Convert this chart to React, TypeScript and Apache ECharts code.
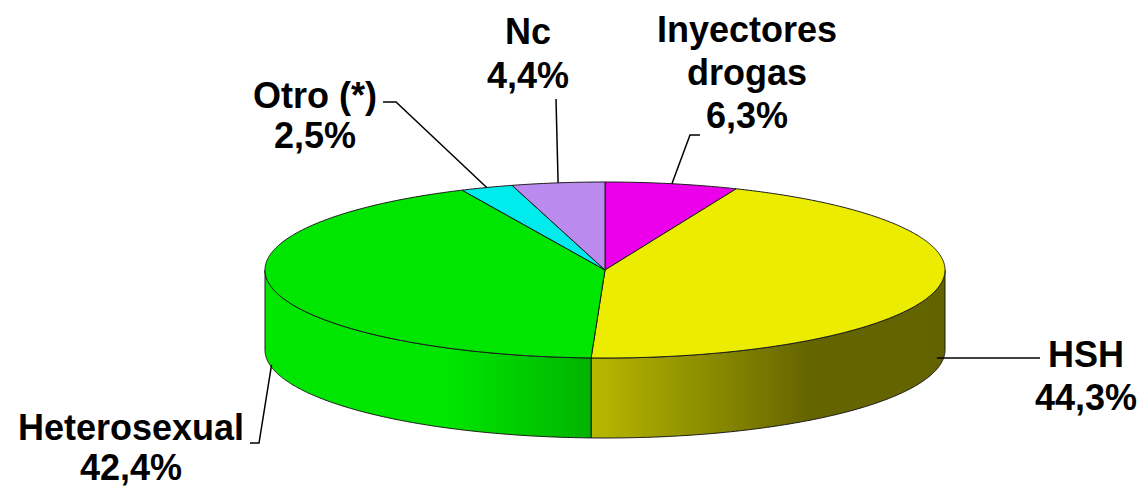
import React, { useEffect, useRef } from 'react';
import * as echarts from 'echarts';

// ---- data ----
const categories = ['Inyectores drogas', 'HSH', 'Heterosexual', 'Otro (*)', 'Nc'];
const values = [6.3, 44.3, 42.4, 2.5, 4.4];

// ---- styles / layout ----
const colors = ['#EC00EC', '#ECEC00', '#00E600', '#00ECEC', '#BB8AEE'];
const PIE = { cx: 605, cy: 270, rx: 340, ry: 88, depth: 80 };
// side shading factor across the pie width (lit from the left)
const shade: [number, number][] = [
  [0, 1],
  [0.27, 1],
  [0.48, 0.78],
  [0.8, 0.43],
  [1, 0.42],
];
const labelLayout = [
  { x: 747, y: 8, lh: 43, wrap: true, line: [[700, 135], [690, 135]], frac: 0 },
  { x: 1086, y: 333, lh: 43, wrap: false, line: [[1040, 358]], frac: 0.86 },
  { x: 131, y: 407, lh: 40, wrap: false, line: [[250, 443], [259, 443]], frac: 0.97 },
  { x: 315, y: 75, lh: 40, wrap: false, line: [[383, 102], [396, 102]], frac: 0 },
  { x: 528, y: 9, lh: 44, wrap: false, line: [[556, 99]], frac: 0 },
];

const total = values.reduce((a, b) => a + b, 0);
const cum: number[] = [0];
values.forEach((v, i) => cum.push(cum[i] + v));
const angleOf = (c: number) => (c / total) * Math.PI * 2;

const topPt = (t: number, dy = 0): number[] => [
  PIE.cx + PIE.rx * Math.sin(t),
  PIE.cy - PIE.ry * Math.cos(t) + dy,
];

const scaleColor = (hex: string, f: number) => {
  const n = parseInt(hex.slice(1), 16);
  const r = Math.round(((n >> 16) & 255) * f);
  const g = Math.round(((n >> 8) & 255) * f);
  const b = Math.round((n & 255) * f);
  return `rgb(${r},${g},${b})`;
};

const arc = (a0: number, a1: number, dy = 0) => {
  const pts: number[][] = [];
  const n = Math.max(2, Math.ceil((a1 - a0) / (Math.PI / 360)));
  for (let k = 0; k <= n; k++) pts.push(topPt(a0 + ((a1 - a0) * k) / n, dy));
  return pts;
};

const fmt = (v: number) => v.toFixed(1).replace('.', ',') + '%';

export default function App() {
  const ref = useRef<HTMLDivElement>(null);
  useEffect(() => {
    if (!ref.current) return;
    const chart = echarts.init(ref.current, null, { renderer: 'svg' });

    const seriesData = values.map((v, i) => ({ name: categories[i], value: v }));

    const sideSeries: any = {
      type: 'custom',
      coordinateSystem: 'none',
      z: 1,
      silent: true,
      data: seriesData,
      renderItem: (params: any) => {
        const i = params.dataIndex;
        const a0 = angleOf(cum[i]);
        const a1 = angleOf(cum[i + 1]);
        const s = Math.max(a0, Math.PI / 2);
        const e = Math.min(a1, (Math.PI * 3) / 2);
        if (s >= e) return { type: 'group', children: [] };
        const pts = arc(s, e).concat(arc(s, e, PIE.depth).reverse());
        return {
          type: 'polygon',
          shape: { points: pts },
          style: {
            fill: {
              type: 'linear',
              x: PIE.cx - PIE.rx,
              y: 0,
              x2: PIE.cx + PIE.rx,
              y2: 0,
              global: true,
              colorStops: shade.map(([o, f]) => ({ offset: o, color: scaleColor(colors[i], f) })),
            },
            stroke: '#1a1a1a',
            lineWidth: 1,
          },
        };
      },
    };

    const topSeries: any = {
      type: 'custom',
      coordinateSystem: 'none',
      z: 2,
      silent: true,
      data: seriesData,
      renderItem: (params: any) => {
        const i = params.dataIndex;
        const a0 = angleOf(cum[i]);
        const a1 = angleOf(cum[i + 1]);
        const pts = [[PIE.cx, PIE.cy]].concat(arc(a0, a1));
        return {
          type: 'polygon',
          shape: { points: pts },
          style: { fill: colors[i], stroke: '#1a1a1a', lineWidth: 1 },
        };
      },
    };

    const graphics: any[] = [];
    categories.forEach((name, i) => {
      const L = labelLayout[i];
      const mid = angleOf((cum[i] + cum[i + 1]) / 2);
      const end = topPt(mid, PIE.depth * L.frac);
      graphics.push({
        type: 'polyline',
        z: 10,
        silent: true,
        shape: { points: [...L.line, end] },
        style: { stroke: '#000', lineWidth: 1.5, fill: null },
      });
      const label = (L.wrap ? name.replace(' ', '\n') : name) + '\n' + fmt(values[i]);
      graphics.push({
        type: 'text',
        z: 10,
        silent: true,
        x: L.x,
        y: L.y,
        style: {
          text: label,
          fill: '#000',
          fontSize: 36,
          fontWeight: 'bold',
          fontFamily: '"Liberation Sans", Arial, sans-serif',
          align: 'center',
          textAlign: 'center',
          verticalAlign: 'top',
          textVerticalAlign: 'top',
          lineHeight: L.lh,
        },
      });
    });

    chart.setOption({
      animation: false,
      backgroundColor: '#ffffff',
      series: [sideSeries, topSeries],
      graphic: { elements: graphics },
    });

    return () => chart.dispose();
  }, []);

  return (
    <div
      ref={ref}
      style={{ position: 'fixed', left: 0, top: 0, width: 1144, height: 488, background: '#fff' }}
    />
  );
}
